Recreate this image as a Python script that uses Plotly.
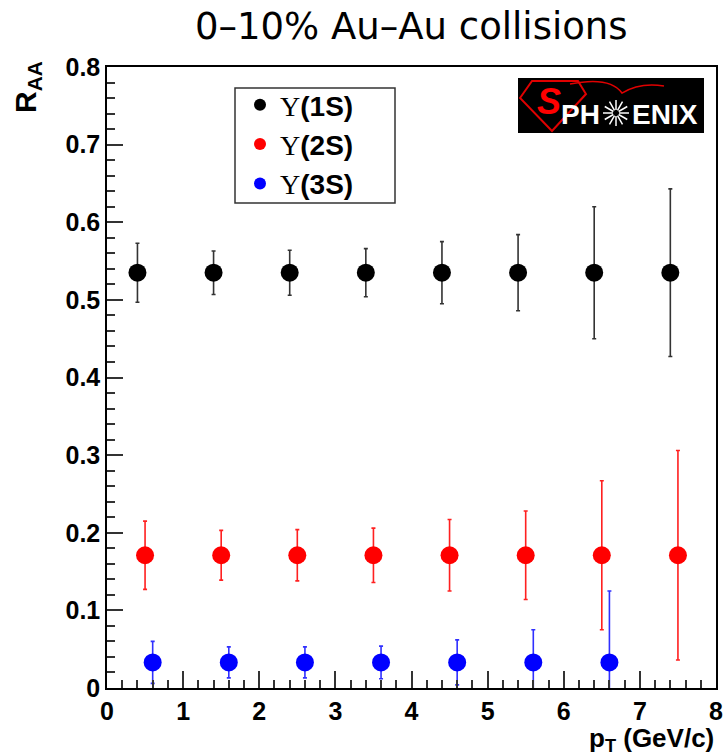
import math
import plotly.graph_objects as go

# Upsilon suppression vs pT, 0-10% central Au-Au
pt_1s = [0.4, 1.4, 2.4, 3.4, 4.4, 5.4, 6.4, 7.4]
raa_1s = [0.535] * 8
err_1s = [0.038, 0.028, 0.029, 0.031, 0.040, 0.049, 0.085, 0.108]

pt_2s = [0.5, 1.5, 2.5, 3.5, 4.5, 5.5, 6.5, 7.5]
raa_2s = [0.171] * 8
err_2s = [0.044, 0.032, 0.033, 0.035, 0.046, 0.057, 0.096, 0.135]

pt_3s = [0.6, 1.6, 2.6, 3.6, 4.6, 5.6, 6.6]
raa_3s = [0.033] * 7
err_3s = [0.027, 0.020, 0.020, 0.021, 0.029, 0.042, 0.092]

series_names = ["(1S)", "(2S)", "(3S)"]
marker_colors = ["#000000", "#ff0000", "#0000ff"]
bar_colors = ["#333333", "#ff2020", "#3030ff"]

y_tickvals = [0, 0.1, 0.2, 0.3, 0.4, 0.5, 0.6, 0.7, 0.8]
y_ticktext = ["0", "0.1", "0.2", "0.3", "0.4", "0.5", "0.6", "0.7", "0.8"]

W, H = 728, 755
L, R, T, B = 107, 12, 67, 67
PW, PH = W - L - R, H - T - B


def px(x):
    return (x - L) / PW


def py(y):
    return (H - B - y) / PH


fig = go.Figure()
for xs, ys, es, name, mc, bc in zip(
    [pt_1s, pt_2s, pt_3s], [raa_1s, raa_2s, raa_3s], [err_1s, err_2s, err_3s],
    series_names, marker_colors, bar_colors,
):
    fig.add_trace(go.Scatter(
        x=xs, y=ys, mode="markers",
        name="<span style='font-family:Liberation Serif;font-weight:normal'>\u03a5</span><b>" + name + "</b>",
        marker=dict(color=mc, size=18, symbol="circle"),
        error_y=dict(type="data", array=es, visible=True, color=bc, thickness=1.6, width=2),
        cliponaxis=True,
    ))

tickfont = dict(family="Liberation Sans", size=25, color="black", weight="bold")
fig.update_xaxes(
    range=[0, 8], dtick=1, tick0=0, showgrid=False, zeroline=False,
    showline=True, mirror=True, linecolor="black", linewidth=1.5,
    ticks="inside", ticklen=17, tickwidth=1.5, tickcolor="#333333",
    minor=dict(ticks="inside", dtick=0.2, ticklen=8, tickwidth=1.5, tickcolor="#333333"),
    tickfont=tickfont,
)
fig.update_yaxes(
    range=[0, 0.8], tickvals=y_tickvals, ticktext=y_ticktext, showgrid=False, zeroline=False,
    showline=True, mirror=True, linecolor="black", linewidth=1.5,
    ticks="inside", ticklen=16, tickwidth=1.5, tickcolor="#333333",
    minor=dict(ticks="inside", dtick=0.02, tick0=0, ticklen=8, tickwidth=1.5, tickcolor="#333333"),
    tickfont=tickfont,
)


def label(text, x, y, size, color="black", family="Liberation Sans", xanchor="center", angle=0):
    return dict(text=text, x=px(x), y=py(y), xref="paper", yref="paper",
                xanchor=xanchor, yanchor="middle", textangle=angle, showarrow=False,
                font=dict(family=family, size=size, color=color))


annotations = [
    label("0\u201310% Au\u2013Au collisions", 411, 27, 37, family="DejaVu Sans"),
    label("<b>R<sub>AA</sub></b>", 27, 87, 30, angle=-90),
    label("<b>p<sub>T</sub> (GeV/c)</b>", 716, 739, 26, xanchor="right"),
]

# legend frame
shapes = [
    dict(type="rect", xref="paper", yref="paper", x0=px(235), x1=px(395), y0=py(203), y1=py(88),
         fillcolor="white", line=dict(color="#333333", width=1.5), layer="above"),
]

# PHENIX badge: black panel, red shield, white lettering with a starburst
shapes.append(dict(type="rect", xref="paper", yref="paper", x0=px(518), x1=px(704), y0=py(133), y1=py(78),
                   fillcolor="black", line=dict(width=0)))
shield = [(520, 98), (532, 81), (578, 81), (586, 94), (552, 131)]
shield_path = "M " + " L ".join(f"{px(a):.4f},{py(b):.4f}" for a, b in shield) + " Z"
shapes.append(dict(type="path", xref="paper", yref="paper", path=shield_path,
                   fillcolor="black", line=dict(color="#e00000", width=2)))
arc = (f"M {px(570):.4f},{py(84):.4f} Q {px(610):.4f},{py(76):.4f} {px(622):.4f},{py(93):.4f} "
       f"Q {px(640):.4f},{py(82):.4f} {px(664):.4f},{py(86):.4f}")
shapes.append(dict(type="path", xref="paper", yref="paper", path=arc,
                   line=dict(color="#e00000", width=1.5)))
cx, cy, rad = 616, 113, 13
for k in range(12):
    a = 2 * math.pi * k / 12
    shapes.append(dict(type="line", xref="paper", yref="paper",
                       x0=px(cx + 3 * math.cos(a)), y0=py(cy + 3 * math.sin(a)),
                       x1=px(cx + rad * math.cos(a)), y1=py(cy + rad * math.sin(a)),
                       line=dict(color="white", width=1.5)))

annotations += [
    label("<b><i>S</i></b>", 549, 101, 36, color="#ff0000"),
    label("<b>PH</b>", 602, 114, 28, color="white", xanchor="right"),
    label("<b>ENIX</b>", 630, 114, 28, color="white", xanchor="left"),
]

fig.update_layout(
    width=W, height=H, margin=dict(l=L, r=R, t=T, b=B, autoexpand=False),
    paper_bgcolor="white", plot_bgcolor="white",
    showlegend=True,
    legend=dict(x=px(240), y=py(80), xanchor="left", yanchor="top",
                borderwidth=0, bgcolor="rgba(0,0,0,0)",
                font=dict(family="Liberation Sans", size=28, color="black"),
                itemsizing="constant", tracegroupgap=0),
    annotations=annotations, shapes=shapes,
)

fig.write_html("out.html")
